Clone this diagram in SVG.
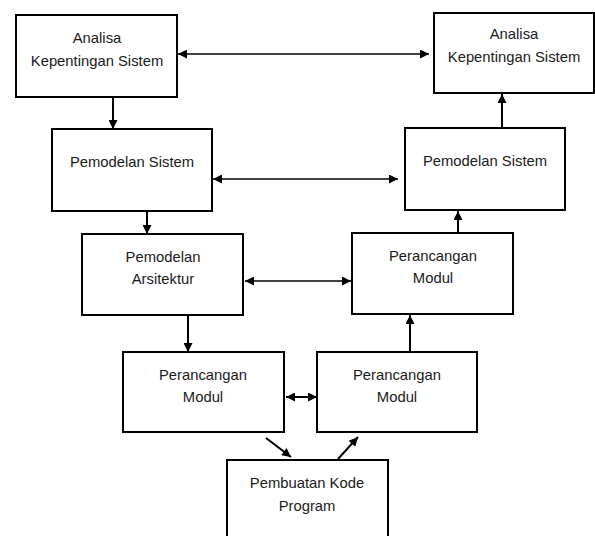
<svg xmlns="http://www.w3.org/2000/svg" width="595" height="536" viewBox="0 0 595 536">
<defs>
<marker id="ah" viewBox="0 0 10 10" refX="10" refY="5" markerWidth="11" markerHeight="9" markerUnits="userSpaceOnUse" orient="auto-start-reverse">
<path d="M0,0 L10,5 L0,10 Z" fill="#000"/>
</marker>
</defs>
<style>
.box{fill:#fff;stroke:#000;stroke-width:2}
text{font-family:"Liberation Sans",Arial,sans-serif;font-size:14.8px;fill:#1a1a1a;text-anchor:middle}
.c{stroke:#000;fill:none}
.thin{stroke-width:1.3}
.thick{stroke-width:2}
</style>
<rect width="595" height="536" fill="#fff"/>
<g id="connectors">
<line class="c thin" x1="178" y1="54" x2="429" y2="54" marker-start="url(#ah)" marker-end="url(#ah)"/>
<line class="c thick" x1="113" y1="97" x2="113" y2="129" marker-end="url(#ah)"/>
<line class="c thin" x1="213" y1="179" x2="398" y2="179" marker-start="url(#ah)" marker-end="url(#ah)"/>
<line class="c thick" x1="502" y1="128" x2="502" y2="94" marker-end="url(#ah)"/>
<line class="c thick" x1="147" y1="211" x2="147" y2="234" marker-end="url(#ah)"/>
<line class="c thick" x1="458" y1="233" x2="458" y2="211" marker-end="url(#ah)"/>
<line class="c thin" x1="245" y1="281" x2="351" y2="281" marker-start="url(#ah)" marker-end="url(#ah)"/>
<line class="c thick" x1="188" y1="315" x2="188" y2="352" marker-end="url(#ah)"/>
<line class="c thick" x1="410" y1="352" x2="410" y2="315" marker-end="url(#ah)"/>
<line class="c thick" x1="286" y1="397" x2="317" y2="397" marker-start="url(#ah)" marker-end="url(#ah)"/>
<line class="c thick" x1="266" y1="438" x2="291" y2="457" marker-end="url(#ah)"/>
<line class="c thick" x1="338" y1="459" x2="358" y2="437" marker-end="url(#ah)"/>
</g>
<g id="n1">
<rect class="box" x="16" y="15" width="161" height="82"/>
<text x="97" y="43">Analisa</text>
<text x="97" y="66">Kepentingan Sistem</text>
</g>
<g id="n2">
<rect class="box" x="52" y="129" width="160" height="82"/>
<text x="132" y="167">Pemodelan Sistem</text>
</g>
<g id="n3">
<rect class="box" x="82" y="234" width="161" height="81"/>
<text x="163" y="262">Pemodelan</text>
<text x="163" y="284">Arsitektur</text>
</g>
<g id="n4">
<rect class="box" x="123" y="352" width="161" height="80"/>
<text x="203" y="380">Perancangan</text>
<text x="203" y="402">Modul</text>
</g>
<g id="n5">
<rect class="box" x="317" y="352" width="160" height="80"/>
<text x="397" y="380">Perancangan</text>
<text x="397" y="402">Modul</text>
</g>
<g id="n6">
<rect class="box" x="352" y="233" width="161" height="81"/>
<text x="433" y="261">Perancangan</text>
<text x="433" y="283">Modul</text>
</g>
<g id="n7">
<rect class="box" x="405" y="128" width="160" height="82"/>
<text x="485" y="166">Pemodelan Sistem</text>
</g>
<g id="n8">
<rect class="box" x="434" y="13" width="160" height="80"/>
<text x="514" y="39">Analisa</text>
<text x="514" y="62">Kepentingan Sistem</text>
</g>
<g id="n9">
<rect class="box" x="227" y="460" width="161" height="90"/>
<text x="307" y="488">Pembuatan Kode</text>
<text x="307" y="511">Program</text>
</g>
</svg>
